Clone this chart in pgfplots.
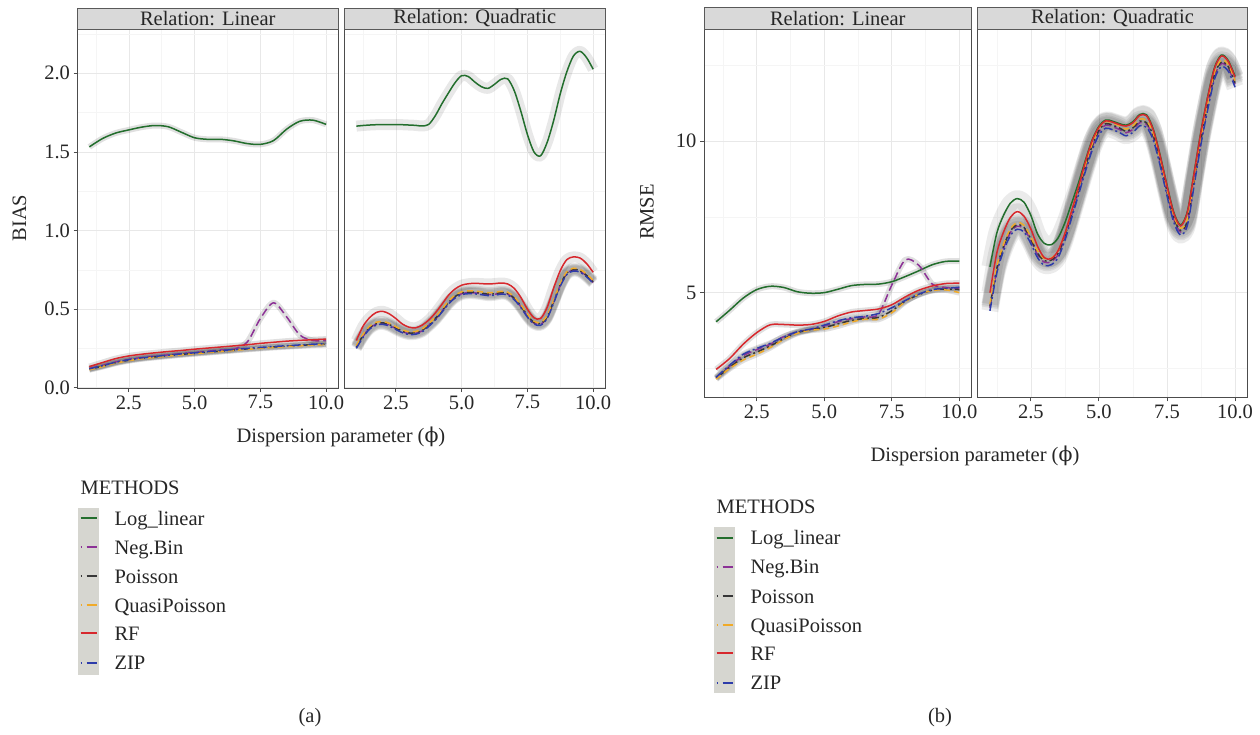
\documentclass[border=0pt]{standalone}
\usepackage{fontspec}
\setmainfont{Liberation Serif}
\newfontfamily\phifont{DejaVu Serif}
\usepackage{pgfplots}
\usepackage{pgfplotstable}
\pgfplotsset{compat=1.18}

\definecolor{cLL}{RGB}{35,110,45}
\definecolor{cNB}{RGB}{140,50,150}
\definecolor{cPO}{RGB}{55,55,55}
\definecolor{cQP}{RGB}{240,170,40}
\definecolor{cRF}{RGB}{215,40,45}
\definecolor{cZIP}{RGB}{45,60,170}
\definecolor{stripbg}{RGB}{217,217,217}
\definecolor{legbg}{RGB}{214,214,208}
\newcommand\tfont{\fontsize{20.5}{24}\selectfont}

\pgfplotstableread{
x LL NB PO QP RF ZIP
1.0 1.532 0.122 0.117 0.114 0.134 0.120
1.5 1.585 0.142 0.137 0.134 0.160 0.140
2.0 1.620 0.164 0.159 0.156 0.185 0.162
2.5 1.640 0.180 0.175 0.172 0.202 0.178
3.0 1.658 0.192 0.187 0.184 0.213 0.190
3.5 1.668 0.201 0.196 0.193 0.222 0.199
4.0 1.660 0.209 0.204 0.201 0.230 0.207
4.5 1.625 0.217 0.212 0.209 0.237 0.215
5.0 1.590 0.224 0.219 0.216 0.245 0.222
5.5 1.580 0.232 0.226 0.223 0.252 0.229
6.0 1.580 0.240 0.233 0.230 0.259 0.236
6.5 1.570 0.246 0.240 0.237 0.266 0.243
7.0 1.553 0.290 0.247 0.244 0.273 0.250
7.5 1.548 0.440 0.253 0.250 0.282 0.256
8.0 1.572 0.540 0.259 0.256 0.289 0.262
8.5 1.645 0.450 0.264 0.261 0.296 0.267
9.0 1.695 0.335 0.269 0.266 0.301 0.272
9.5 1.702 0.300 0.274 0.271 0.305 0.277
10.0 1.675 0.300 0.277 0.274 0.309 0.280
}\tAlin

\pgfplotstableread{
x LL NB PO QP RF ZIP
1.00 1.664 0.256 0.260 0.268 0.300 0.250
1.25 1.668 0.326 0.330 0.338 0.390 0.320
1.50 1.671 0.378 0.382 0.390 0.445 0.372
1.75 1.673 0.404 0.408 0.416 0.478 0.398
2.00 1.674 0.409 0.413 0.421 0.486 0.403
2.25 1.674 0.398 0.402 0.410 0.470 0.392
2.50 1.674 0.376 0.380 0.388 0.440 0.370
2.75 1.673 0.356 0.360 0.368 0.405 0.350
3.00 1.671 0.344 0.348 0.356 0.385 0.338
3.25 1.669 0.346 0.350 0.358 0.381 0.340
3.50 1.665 0.361 0.365 0.373 0.398 0.355
3.75 1.675 0.396 0.400 0.408 0.430 0.390
4.00 1.730 0.436 0.440 0.448 0.475 0.430
4.25 1.806 0.486 0.490 0.498 0.530 0.480
4.50 1.875 0.538 0.542 0.550 0.588 0.532
4.75 1.940 0.576 0.580 0.588 0.628 0.570
5.00 1.985 0.598 0.602 0.610 0.652 0.592
5.25 1.980 0.604 0.608 0.616 0.661 0.598
5.50 1.945 0.603 0.607 0.615 0.664 0.597
5.75 1.915 0.598 0.602 0.610 0.662 0.592
6.00 1.904 0.592 0.596 0.604 0.660 0.586
6.25 1.930 0.594 0.598 0.606 0.662 0.588
6.50 1.962 0.601 0.605 0.613 0.666 0.595
6.75 1.965 0.596 0.600 0.608 0.660 0.590
7.00 1.890 0.566 0.570 0.578 0.632 0.560
7.25 1.760 0.516 0.520 0.528 0.575 0.510
7.50 1.612 0.456 0.460 0.468 0.500 0.450
7.75 1.500 0.411 0.415 0.423 0.445 0.405
8.00 1.475 0.403 0.407 0.415 0.440 0.397
8.25 1.560 0.446 0.450 0.458 0.510 0.440
8.50 1.700 0.546 0.550 0.558 0.635 0.540
8.75 1.870 0.651 0.655 0.663 0.745 0.645
9.00 2.010 0.726 0.730 0.738 0.815 0.720
9.25 2.110 0.748 0.752 0.760 0.832 0.742
9.50 2.140 0.741 0.745 0.753 0.825 0.735
9.75 2.100 0.711 0.715 0.723 0.790 0.705
10.00 2.026 0.670 0.674 0.682 0.734 0.664
}\tAquad

\pgfplotstableread{
x LL NB PO QP RF ZIP
1.0 4.04 2.19 2.17 2.15 2.47 2.21
1.5 4.42 2.58 2.54 2.50 2.83 2.61
2.0 4.82 2.92 2.85 2.78 3.30 2.97
2.5 5.10 3.12 3.04 2.97 3.68 3.16
3.0 5.21 3.30 3.24 3.19 3.94 3.33
3.5 5.17 3.55 3.48 3.45 3.95 3.54
4.0 5.03 3.70 3.68 3.66 3.93 3.71
4.5 4.98 3.79 3.78 3.76 3.95 3.80
5.0 5.00 3.90 3.85 3.80 4.05 3.93
5.5 5.11 4.04 3.97 3.90 4.23 4.07
6.0 5.23 4.14 4.08 4.03 4.36 4.17
6.5 5.27 4.20 4.15 4.12 4.41 4.22
7.0 5.28 4.28 4.18 4.12 4.46 4.31
7.5 5.36 5.25 4.40 4.34 4.60 4.50
8.0 5.53 6.08 4.72 4.70 4.86 4.74
8.5 5.72 5.90 4.93 4.95 5.08 4.95
9.0 5.92 5.28 5.08 5.07 5.22 5.10
9.5 6.03 5.17 5.12 5.09 5.30 5.14
10.0 6.04 5.15 5.10 5.00 5.31 5.18
}\tBlin

\pgfplotstableread{
x LL NB PO QP RF ZIP
1.00 5.85 4.50 4.55 4.62 5.00 4.40
1.25 6.96 5.74 5.79 5.86 6.30 5.64
1.50 7.55 6.48 6.53 6.60 7.00 6.38
1.75 7.95 6.98 7.03 7.10 7.48 6.88
2.00 8.10 7.19 7.24 7.31 7.67 7.09
2.25 7.98 7.10 7.15 7.22 7.52 7.00
2.50 7.55 6.72 6.77 6.84 7.10 6.62
2.75 6.93 6.25 6.30 6.37 6.52 6.15
3.00 6.62 6.00 6.05 6.12 6.15 5.90
3.25 6.58 6.02 6.07 6.14 6.12 5.92
3.50 6.80 6.25 6.30 6.37 6.38 6.15
3.75 7.30 6.82 6.87 6.94 6.95 6.72
4.00 7.95 7.56 7.61 7.68 7.70 7.46
4.25 8.62 8.32 8.37 8.44 8.48 8.22
4.50 9.35 9.08 9.13 9.20 9.30 8.98
4.75 10.03 9.78 9.83 9.90 10.00 9.68
5.00 10.48 10.30 10.35 10.42 10.45 10.20
5.25 10.69 10.52 10.57 10.64 10.66 10.42
5.50 10.65 10.47 10.52 10.59 10.62 10.37
5.75 10.57 10.38 10.43 10.50 10.54 10.28
6.00 10.52 10.27 10.32 10.39 10.49 10.17
6.25 10.63 10.38 10.43 10.50 10.60 10.28
6.50 10.87 10.60 10.65 10.72 10.84 10.50
6.75 10.86 10.55 10.60 10.67 10.83 10.45
7.00 10.38 10.12 10.17 10.24 10.35 10.02
7.25 9.53 9.28 9.33 9.40 9.50 9.18
7.50 8.55 8.30 8.35 8.42 8.52 8.20
7.75 7.65 7.42 7.47 7.54 7.62 7.32
8.00 7.23 7.00 7.05 7.12 7.20 6.90
8.25 7.68 7.32 7.37 7.44 7.65 7.22
8.50 8.98 8.65 8.70 8.77 8.95 8.55
8.75 10.33 10.00 10.05 10.12 10.30 9.90
9.00 11.48 11.15 11.20 11.27 11.45 11.05
9.25 12.43 12.15 12.20 12.27 12.40 12.05
9.50 12.83 12.55 12.60 12.67 12.80 12.45
9.75 12.65 12.40 12.45 12.52 12.62 12.30
10.00 12.13 11.87 11.92 11.99 12.10 11.77
}\tBquad

\tikzset{legkey/.style={line width=2pt, dash pattern=on 1.5pt off 4.5pt on 10pt off 20pt}}
\pgfplotsset{
  facet/.style={
    scale only axis, anchor=north west,
    xmin=0.55, xmax=10.45,
    xtick={2.5,5,7.5,10}, minor xtick={1.25,3.75,6.25,8.75},
    grid=both,
    major grid style={draw=black!9, line width=0.6pt},
    minor grid style={draw=black!4, line width=0.5pt},
    axis line style={draw=black!70, line width=0.8pt},
    tick style={draw=black!70, line width=0.8pt},
    major tick length=4pt, minor tick length=0pt,
    tick align=outside, tick pos=left,
    /pgf/number format/assume math mode=true,
    tick label style={font=\tfont, text=black!85},
    xticklabel={\pgfmathprintnumber[fixed,fixed zerofill,precision=1]{\tick}},
  },
  rib/.style={black, line cap=butt, line join=round, smooth, no markers},
  sLL/.style={cLL, line width=1.5pt, smooth, no markers},
  sNB/.style={cNB, line width=1.5pt, smooth, no markers, dash pattern=on 8pt off 4pt},
  sPO/.style={cPO, line width=1.5pt, smooth, no markers, dash pattern=on 2pt off 3pt on 7pt off 3pt},
  sQP/.style={cQP, line width=1.5pt, smooth, no markers, dash pattern=on 6pt off 4pt},
  sRF/.style={cRF, line width=1.5pt, smooth, no markers},
  sZIP/.style={cZIP, line width=1.5pt, smooth, no markers, dash pattern=on 9pt off 3pt on 2pt off 3pt},
}

% #1 table, #2 ribbon width, #3 ribbon opacity
\newcommand\ribbons[3]{%
  \addplot[rib, line width=#2, opacity=#3] table[x=x,y=LL]{#1};
  \addplot[rib, line width=#2, opacity=#3] table[x=x,y=NB]{#1};
  \addplot[rib, line width=#2, opacity=#3] table[x=x,y=PO]{#1};
  \addplot[rib, line width=#2, opacity=#3] table[x=x,y=QP]{#1};
  \addplot[rib, line width=#2, opacity=#3] table[x=x,y=RF]{#1};
  \addplot[rib, line width=#2, opacity=#3] table[x=x,y=ZIP]{#1};
}
\newcommand\curves[1]{%
  \addplot[sLL] table[x=x,y=LL]{#1};
  \addplot[sNB] table[x=x,y=NB]{#1};
  \addplot[sPO] table[x=x,y=PO]{#1};
  \addplot[sQP] table[x=x,y=QP]{#1};
  \addplot[sRF] table[x=x,y=RF]{#1};
  \addplot[sZIP] table[x=x,y=ZIP]{#1};
}

\begin{document}
\begin{tikzpicture}[x=1pt,y=1pt]
\useasboundingbox (0pt,0pt) rectangle (1260pt,-735pt);

% ---------- panel (a) ----------
\begin{axis}[facet, at={(77.5pt,-29pt)}, width=260.5pt, height=359pt,
  ymin=-0.002, ymax=2.282, ytick={0,0.5,1,1.5,2}, minor ytick={0.25,0.75,1.25,1.75,2.25},
  yticklabel={\pgfmathprintnumber[fixed,fixed zerofill,precision=1]{\tick}}]
\ribbons{\tAlin}{6pt}{0.12}
\curves{\tAlin}
\end{axis}
\begin{axis}[facet, at={(344.5pt,-29pt)}, width=260.5pt, height=359pt,
  ymin=-0.002, ymax=2.282, ytick={0,0.5,1,1.5,2}, minor ytick={0.25,0.75,1.25,1.75,2.25},
  yticklabels={,,,,}, ytick style={draw=none}]
\ribbons{\tAquad}{11pt}{0.09}
\curves{\tAquad}
\end{axis}

% ---------- panel (b) ----------
\begin{axis}[facet, at={(704pt,-29.3pt)}, width=267.5pt, height=368pt,
  ymin=1.55, ymax=13.68, ytick={5,10}, minor ytick={2.5,7.5,12.5},
  yticklabel={\pgfmathprintnumber[fixed,precision=0]{\tick}}]
\ribbons{\tBlin}{6pt}{0.12}
\curves{\tBlin}
\end{axis}
\begin{axis}[facet, at={(977.7pt,-29.3pt)}, width=269.6pt, height=368pt,
  ymin=1.55, ymax=13.68, ytick={5,10}, minor ytick={2.5,7.5,12.5},
  yticklabels={,}, ytick style={draw=none}]
\ribbons{\tBquad}{17pt}{0.08}
\curves{\tBquad}
\end{axis}

% strips
\begin{scope}[font=\tfont, text=black!85]
\filldraw[fill=stripbg, draw=black!65, line width=0.8pt] (77.5pt,-8pt) rectangle (338pt,-29pt);
\node at (207.75pt,-18.5pt) {Relation: Linear};
\filldraw[fill=stripbg, draw=black!65, line width=0.8pt] (344.5pt,-8pt) rectangle (605pt,-29pt);
\node at (474.75pt,-18.5pt) {Relation: Quadratic};
\filldraw[fill=stripbg, draw=black!65, line width=0.8pt] (704pt,-7.5pt) rectangle (971.5pt,-29.3pt);
\node at (837.75pt,-18.4pt) {Relation: Linear};
\filldraw[fill=stripbg, draw=black!65, line width=0.8pt] (977.7pt,-7.5pt) rectangle (1247.3pt,-29.3pt);
\node at (1112.5pt,-18.4pt) {Relation: Quadratic};

% axis titles
\node[rotate=90] at (19.5pt,-218pt) {BIAS};
\node[rotate=90] at (647pt,-212pt) {RMSE};
\node at (341pt,-437pt) {Dispersion parameter ({\phifont ϕ})};
\node at (975pt,-456pt) {Dispersion parameter ({\phifont ϕ})};

% captions
\node at (310pt,-718pt) {(a)};
\node at (940pt,-718pt) {(b)};
\end{scope}

% legend (a)
\node[font=\tfont, text=black!85, anchor=base west] at (77pt,-494pt) {METHODS};
\fill[legbg] (78pt,-508pt) rectangle (99pt,-675pt);
\draw[draw=cLL, line width=2pt] (80.5pt,-518.3pt) -- (96.5pt,-518.3pt);
\draw[draw=cNB, legkey] (80.5pt,-547.3pt) -- (96.5pt,-547.3pt);
\draw[draw=cPO, legkey] (80.5pt,-576pt) -- (96.5pt,-576pt);
\draw[draw=cQP, legkey] (80.5pt,-605pt) -- (96.5pt,-605pt);
\draw[draw=cRF, line width=2pt] (80.5pt,-633.3pt) -- (96.5pt,-633.3pt);
\draw[draw=cZIP, legkey] (80.5pt,-662.7pt) -- (96.5pt,-662.7pt);
\begin{scope}[font=\tfont, text=black!85]
\node[anchor=base west] at (111pt,-525.3pt) {Log\_linear};
\node[anchor=base west] at (111pt,-554.3pt) {Neg.Bin};
\node[anchor=base west] at (111pt,-583pt) {Poisson};
\node[anchor=base west] at (111pt,-612pt) {QuasiPoisson};
\node[anchor=base west] at (111pt,-640.3pt) {RF};
\node[anchor=base west] at (111pt,-669.7pt) {ZIP};
\end{scope}

% legend (b)
\node[font=\tfont, text=black!85, anchor=base west] at (713pt,-513.5pt) {METHODS};
\fill[legbg] (714pt,-527pt) rectangle (735pt,-693pt);
\draw[draw=cLL, line width=2pt] (716.5pt,-537.7pt) -- (732.5pt,-537.7pt);
\draw[draw=cNB, legkey] (716.5pt,-566.7pt) -- (732.5pt,-566.7pt);
\draw[draw=cPO, legkey] (716.5pt,-596pt) -- (732.5pt,-596pt);
\draw[draw=cQP, legkey] (716.5pt,-625pt) -- (732.5pt,-625pt);
\draw[draw=cRF, line width=2pt] (716.5pt,-653.3pt) -- (732.5pt,-653.3pt);
\draw[draw=cZIP, legkey] (716.5pt,-682.7pt) -- (732.5pt,-682.7pt);
\begin{scope}[font=\tfont, text=black!85]
\node[anchor=base west] at (747pt,-544.7pt) {Log\_linear};
\node[anchor=base west] at (747pt,-573.7pt) {Neg.Bin};
\node[anchor=base west] at (747pt,-603pt) {Poisson};
\node[anchor=base west] at (747pt,-632pt) {QuasiPoisson};
\node[anchor=base west] at (747pt,-660.3pt) {RF};
\node[anchor=base west] at (747pt,-689.7pt) {ZIP};
\end{scope}
\end{tikzpicture}
\end{document}
